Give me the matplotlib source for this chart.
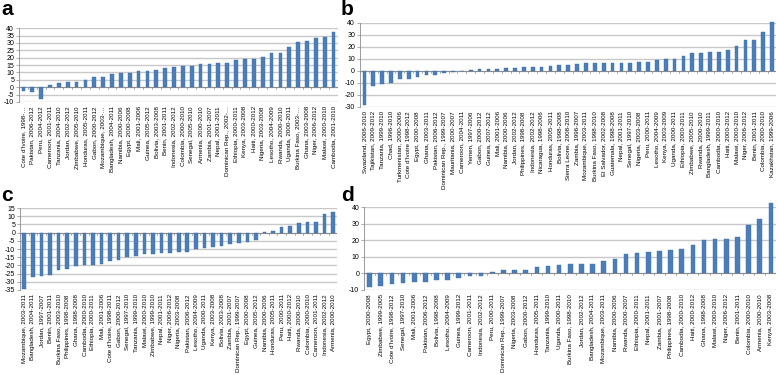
import matplotlib

matplotlib.use("Agg")
import matplotlib.pyplot as plt

plt.rcParams["font.family"] = ["Liberation Sans", "DejaVu Sans"]

# panel a
labels_a = [
    "Cote d'Ivoire, 1998-…", "Pakistan, 2006-2012", "Peru, 2004-2012",
    "Cameroon, 2001-2011", "Tanzania, 2004-2010", "Jordan, 2002-2012",
    "Zimbabwe, 2005-2010", "Honduras, 2005-2011", "Gabon, 2000-2012",
    "Mozambique, 2003-…", "Bangladesh, 2004-2011", "Namibia, 2000-2006",
    "Egypt, 2000-2008", "Mali, 2001-2006", "Guinea, 2005-2012",
    "Bolivia, 2003-2008", "Benin, 2001-2011", "Indonesia, 2002-2012",
    "Colombia, 2000-2010", "Senegal, 2005-2010", "Armenia, 2000-2010",
    "Zambia, 2001-2007", "Nepal, 2001-2011", "Dominican Rep., 2002-…",
    "Ethiopia, 2000-2011", "Kenya, 2003-2008", "Haiti, 2000-2012",
    "Nigeria, 2003-2008", "Lesotho, 2004-2009", "Rwanda, 2000-2010",
    "Uganda, 2000-2011", "Burkina Faso, 2003-…", "Ghana, 2003-2008",
    "Niger, 2006-2012", "Malawi, 2000-2010", "Cambodia, 2001-2010",
]
values_a = [
    -2.5, -3.4, -7.9, 1.4, 2.7, 3.4, 3.8, 5.2, 6.8, 7.0, 8.8, 9.7,
    9.7, 11.0, 11.0, 11.7, 13.1, 13.8, 14.4, 14.4, 15.6, 16.0, 16.7, 16.7,
    18.3, 19.0, 19.0, 20.5, 23.0, 23.5, 27.3, 30.5, 31.4, 33.4, 33.7, 37.3,
]

# panel b
labels_b = [
    "Swaziland, 2006-2010", "Tajikistan, 2009-2012", "Tanzania, 1999-2010",
    "Chad, 1996-2010", "Turkmenistan, 2000-2006", "Cote d'Ivoire 1998-2012",
    "Egypt, 2000-2008", "Ghana, 2003-2011", "Pakistan, 2006-2012",
    "Dominican Rep., 1999-2007", "Mauritania, 2000-2007", "Cameroon, 2004-2011",
    "Yemen, 1997-2006", "Gabon, 2000-2012", "Guinea, 2007-2012",
    "Mali, 2001-2006", "Namibia, 2000-2006", "Jordan, 2002-2012",
    "Philippines, 1998-2008", "Indonesia, 2002-2012", "Nicaragua, 1998-2006",
    "Honduras, 2005-2011", "Bolivia, 1998-2008", "Sierra Leone, 2008-2010",
    "Zambia, 1996-2007", "Mozambique, 2003-2011", "Burkina Faso, 1998-2010",
    "El Salvador, 2002-2008", "Guatemala, 1998-2008", "Nepal, 2001-2011",
    "Senegal, 1997-2010", "Nigeria, 2003-2008", "Peru, 2000-2011",
    "Lesotho, 2004-2009", "Kenya, 2003-2009", "Uganda, 2000-2011",
    "Ethiopia, 2000-2011", "Zimbabwe, 2005-2010", "Rwanda, 2000-2010",
    "Bangladesh, 1999-2011", "Cambodia, 2000-2010", "Haiti, 2000-2012",
    "Malawi, 2000-2010", "Niger, 2006-2012", "Benin, 2001-2011",
    "Colombia, 2000-2010", "Kazakhstan, 1999-2006",
]
values_b = [
    -28.1, -12.3, -10.6, -10.4, -6.8, -6.3, -5.2, -3.5, -3.0, -1.4, -0.8, -0.3,
    0.5, 1.4, 1.6, 1.9, 2.2, 2.2, 3.0, 3.3, 3.3, 4.1, 4.6, 4.9,
    5.7, 6.3, 6.3, 6.3, 6.3, 6.5, 6.8, 7.1, 7.6, 9.0, 9.8, 9.8,
    12.5, 15.0, 15.3, 15.8, 15.8, 17.4, 20.7, 26.2, 26.2, 32.4, 41.1,
]

# panel c
labels_c = [
    "Mozambique, 2003-2011", "Bangladesh, 2004-2011", "Jordan, 1997-2007",
    "Benin, 2001-2011", "Burkina Faso, 2003-2010", "Philippines, 1998-2008",
    "Ghana, 1998-2008", "Cambodia, 2000-2010", "Ethiopia, 2000-2011",
    "Mali, 2001-2006", "Cote d'Ivoire, 1998-2011", "Gabon, 2000-2012",
    "Senegal, 1997-2010", "Tanzania, 1999-2010", "Malawi, 2000-2010",
    "Zimbabwe, 1999-2010", "Nepal, 2001-2011", "Niger, 2006-2012",
    "Nigeria, 2003-2008", "Pakistan, 2006-2012", "Lesotho, 2004-2009",
    "Uganda, 2000-2011", "Kenya, 2003-2008", "Bolivia, 2003-2008",
    "Zambia, 2001-2007", "Dominican Rep., 1999-2007", "Egypt, 2000-2008",
    "Guinea, 2005-2012", "Namibia, 2000-2006", "Honduras, 2005-2011",
    "Peru, 2000-2011", "Haiti, 2000-2012", "Rwanda, 2000-2010",
    "Colombia, 2000-2010", "Cameroon, 2001-2011", "Indonesia, 2002-2012",
    "Armenia, 2000-2010",
]
values_c = [
    -34.1, -27.1, -26.3, -25.9, -23.0, -22.4, -20.2, -19.8, -19.8, -19.2,
    -17.4, -16.5, -15.1, -14.1, -13.3, -13.3, -12.7, -12.7, -11.6, -11.6,
    -10.1, -9.6, -8.6, -8.0, -7.0, -6.6, -6.0, -4.6, 0.6, 1.2,
    3.7, 4.3, 5.7, 6.7, 6.7, 11.4, 12.4,
]

# panel d
labels_d = [
    "Egypt, 2000-2008", "Zimbabwe, 1999-2005", "Cote d'Ivoire, 1998-2012",
    "Senegal, 1997-2010", "Mali, 2001-2006", "Pakistan, 2006-2012",
    "Bolivia, 1998-2008", "Lesotho, 2004-2009", "Guinea, 1999-2012",
    "Cameroon, 2001-2011", "Indonesia, 2002-2012", "Peru, 2000-2011",
    "Dominican Rep., 1999-2007", "Nigeria, 2003-2008", "Gabon, 2000-2012",
    "Honduras, 2005-2011", "Tanzania, 1999-2010", "Uganda, 2000-2011",
    "Burkina Faso, 1998-2010", "Jordan, 2002-2012", "Bangladesh, 2004-2011",
    "Mozambique, 2003-2011", "Namibia, 2000-2006", "Rwanda, 2000-2007",
    "Ethiopia, 2000-2011", "Nepal, 2001-2011", "Zambia, 2001-2007",
    "Philippines, 1998-2008", "Cambodia, 2000-2010", "Haiti, 2000-2012",
    "Ghana, 1998-2008", "Malawi, 2000-2010", "Niger, 2006-2012",
    "Benin, 2001-2011", "Colombia, 2000-2010", "Armenia, 2000-2010",
    "Kenya, 2003-2008",
]
values_d = [
    -8.4, -7.4, -6.4, -6.0, -5.2, -5.2, -4.2, -3.8, -3.0, -1.8,
    -1.4, 1.0, 1.8, 2.0, 2.0, 4.0, 4.2, 5.0, 5.8, 5.8,
    5.8, 7.6, 8.4, 11.4, 12.0, 12.8, 13.6, 13.8, 14.4, 17.0,
    20.0, 21.0, 21.0, 21.8, 29.0, 32.6, 42.4,
]

BAR = "#4A7EBB"
GRID = "#C8C8C8"
AXIS = "#8C8C8C"


def draw_panel(ax, labels, values, ylim, step, letter, letter_xy):
    x = range(len(values))
    ax.bar(x, values, width=0.42, color=BAR, edgecolor="#3D6FA8",
           linewidth=0.3, zorder=3, clip_on=False)
    ax.set_xlim(-0.5, len(values) - 0.5)
    ax.set_ylim(*ylim)
    ticks = list(range(ylim[0], ylim[1] + 1, step))
    ax.set_yticks(ticks)
    ax.set_yticklabels([str(t) for t in ticks], fontsize=5)
    ax.yaxis.grid(True, color=GRID, linewidth=1.0, zorder=0)
    ax.set_axisbelow(True)
    ax.axhline(0, color=AXIS, linewidth=0.7, zorder=2)
    # small category separators hanging under the zero line
    tick_len = (ylim[1] - ylim[0]) * 0.025
    for i in range(len(values) + 1):
        ax.plot([i - 0.5, i - 0.5], [0, -tick_len],
                color=AXIS, linewidth=0.5, zorder=2)
    ax.set_xticks(list(x))
    ax.set_xticklabels(labels, rotation=90, fontsize=4.5)
    ax.tick_params(axis="x", length=0, pad=3)
    ax.tick_params(axis="y", length=2, width=0.5, color=AXIS, pad=1.5)
    for s in ["top", "right", "bottom"]:
        ax.spines[s].set_visible(False)
    ax.spines["left"].set_color(AXIS)
    ax.spines["left"].set_linewidth(0.6)
    ax.figure.text(letter_xy[0], letter_xy[1], letter, fontsize=15,
                   fontweight="bold", ha="left", va="top")


fig = plt.figure(figsize=(7.78, 3.75), dpi=100)

ax_a = fig.add_axes([0.0244, 0.728, 0.410, 0.197])
ax_b = fig.add_axes([0.4627, 0.7147, 0.5353, 0.224])
ax_c = fig.add_axes([0.0257, 0.2267, 0.408, 0.2186])
ax_d = fig.add_axes([0.468, 0.2267, 0.530, 0.2213])

draw_panel(ax_a, labels_a, values_a, (-10, 40), 5, "a", (0.002, 1.0))
draw_panel(ax_b, labels_b, values_b, (-30, 40), 10, "b", (0.438, 1.0))
draw_panel(ax_c, labels_c, values_c, (-35, 15), 5, "c", (0.002, 0.505))
draw_panel(ax_d, labels_d, values_d, (-10, 40), 10, "d", (0.438, 0.505))

fig.savefig("out.png", dpi=100)
